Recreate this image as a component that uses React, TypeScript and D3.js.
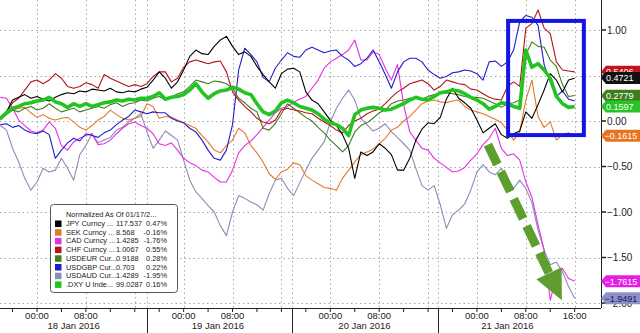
import React from "react";
import * as d3 from "d3";

// ---- data (hours since 18 Jan 2016 00:00, normalized % change) ----
const hours: number[] = d3.range(-6, 89);

const seriesNames = ["USDAUD", "SEK", "CAD", "USDGBP", "USDEUR", "CHF", "JPY", "DXY"];

const usdaud = [-0.05,-0.10,-0.30,-0.45,-0.63,-0.76,
-0.67,-0.52,-0.56,-0.54,-0.41,-0.52,-0.65,-0.37,-0.27,-0.14,
-0.24,-0.21,-0.18,-0.10,-0.07,-0.01,0.03,0.08,-0.12,-0.30,
-0.21,-0.11,-0.16,-0.21,-0.43,-0.65,-0.78,-0.85,-0.93,-1.00,
-1.15,-1.26,-1.00,-0.82,-0.85,-0.89,-0.92,-0.98,-0.80,-0.65,
-0.63,-0.74,-0.82,-0.68,-0.54,-0.41,-0.32,-0.23,-0.01,0.14,
0.25,0.34,0.23,0.03,-0.04,-0.11,-0.08,-0.03,-0.12,-0.18,
-0.25,-0.32,-0.52,-0.71,-0.76,-0.71,-0.92,-1.18,-1.03,-0.98,
-0.91,-0.76,-0.56,-0.48,-0.56,-0.59,-0.52,-0.63,-0.74,-0.65,
-0.74,-0.90,-1.20,-1.42,-1.58,-1.55,-1.66,-1.82,-1.95];

const sek = [0.04,0.09,0.12,0.14,0.15,0.09,
0.04,0.07,0.03,0.01,0.03,0.04,-0.01,-0.07,-0.10,-0.05,
0.01,0.05,0.12,0.07,0.03,0.01,0.03,0.05,0.19,0.16,
0.03,0.05,0.04,0.01,-0.02,-0.05,-0.08,-0.16,-0.23,-0.32,
-0.35,-0.27,-0.21,-0.08,-0.13,-0.27,-0.35,-0.45,-0.58,-0.64,
-0.56,-0.53,-0.46,-0.48,-0.60,-0.65,-0.69,-0.73,-0.74,-0.76,
-0.63,-0.54,-0.45,-0.37,-0.34,-0.31,-0.25,-0.19,-0.10,-0.07,
0.00,0.05,0.12,0.19,0.22,0.23,0.21,0.20,0.22,0.23,
0.16,0.12,0.10,0.08,0.05,0.02,-0.02,-0.10,-0.21,-0.12,
0.23,0.45,0.05,-0.07,-0.01,-0.21,-0.15,-0.13,-0.16];

const cad = [0.26,0.25,0.14,0.01,-0.05,-0.11,
-0.13,-0.10,-0.01,-0.08,-0.27,-0.32,-0.23,-0.19,-0.16,-0.14,
-0.26,-0.25,-0.21,-0.14,-0.08,-0.03,-0.01,-0.05,-0.08,-0.14,
-0.25,-0.27,-0.24,-0.32,-0.41,-0.46,-0.49,-0.54,-0.56,-0.62,
-0.67,-0.67,-0.54,-0.35,-0.27,-0.22,-0.15,-0.07,0.01,0.09,
0.14,0.16,0.21,0.24,0.27,0.36,0.45,0.58,0.65,0.69,
0.73,0.78,0.89,0.67,0.67,0.76,0.73,0.58,0.45,0.62,
0.18,-0.12,-0.21,-0.30,-0.32,-0.41,-0.46,-0.51,-0.56,-0.55,
-0.51,-0.43,-0.36,-0.26,-0.19,-0.08,-0.30,-0.38,-0.36,-0.43,
-0.67,-0.84,-1.14,-1.42,-1.97,-1.70,-1.62,-1.73,-1.76];

const usdgbp = [-0.04,-0.03,-0.07,-0.05,-0.10,-0.13,
-0.14,-0.11,-0.15,-0.41,-0.32,-0.24,-0.19,-0.22,-0.14,-0.16,
-0.18,-0.13,-0.10,-0.04,0.01,0.05,0.12,0.10,0.08,0.10,
0.09,0.09,0.03,0.00,-0.02,-0.08,-0.12,-0.21,-0.32,-0.41,
-0.43,-0.32,-0.04,0.56,0.80,0.73,0.65,0.48,0.43,0.58,
0.67,0.75,0.71,0.70,0.78,0.81,0.78,0.75,0.77,0.78,
0.71,0.67,0.60,0.63,0.69,0.78,0.65,0.51,0.36,0.54,
0.65,0.69,0.69,0.65,0.56,0.51,0.47,0.49,0.53,0.54,
0.56,0.55,0.52,0.45,0.65,0.66,0.60,0.65,0.78,1.09,
1.16,1.14,1.05,0.62,0.43,0.27,0.33,0.24,0.22];

const usdeur = [0.01,0.07,0.12,0.10,0.14,0.16,
0.12,0.14,0.19,0.14,0.10,0.12,0.14,0.10,0.12,0.14,
0.16,0.14,0.18,0.20,0.16,0.19,0.20,0.23,0.22,0.25,
0.27,0.23,0.26,0.30,0.32,0.38,0.45,0.43,0.41,0.44,
0.43,0.41,0.36,0.25,0.20,0.14,0.10,-0.08,-0.10,-0.03,
0.08,0.19,0.14,0.09,0.04,0.00,-0.07,-0.13,-0.21,-0.27,
-0.34,-0.27,-0.12,-0.05,-0.02,0.03,0.09,0.12,0.19,0.22,
0.23,0.25,0.26,0.24,0.27,0.29,0.30,0.31,0.30,0.29,
0.27,0.26,0.26,0.25,0.22,0.19,0.15,0.19,0.20,0.23,
0.73,0.87,0.82,0.81,0.67,0.60,0.40,0.27,0.28];

const chf = [0.03,0.10,0.20,0.25,0.34,0.43,
0.45,0.41,0.45,0.52,0.47,0.38,0.36,0.38,0.42,0.40,
0.36,0.51,0.47,0.44,0.41,0.38,0.40,0.38,0.41,0.49,
0.54,0.54,0.43,0.47,0.59,0.65,0.67,0.65,0.63,0.65,
0.66,0.54,0.32,0.23,0.16,0.10,0.03,-0.01,-0.03,0.01,
0.12,0.14,0.12,0.11,0.09,0.08,0.03,-0.01,-0.05,-0.10,
-0.13,-0.05,0.00,0.03,0.08,0.11,0.13,0.19,0.26,0.32,
0.36,0.41,0.43,0.45,0.41,0.34,0.38,0.45,0.43,0.41,
0.40,0.35,0.34,0.30,0.26,0.24,0.23,0.38,0.43,0.38,
1.02,1.07,1.22,1.02,0.96,0.65,0.56,0.55,0.54];

const jpy = [0.03,0.10,0.23,0.26,0.29,0.25,
0.27,0.24,0.22,0.26,0.29,0.31,0.30,0.33,0.32,0.35,
0.34,0.33,0.36,0.32,0.31,0.33,0.32,0.35,0.37,0.45,
0.54,0.47,0.36,0.43,0.56,0.71,0.78,0.74,0.73,0.82,
0.89,0.93,0.82,0.73,0.76,0.71,0.60,0.51,0.43,0.36,
0.52,0.57,0.58,0.54,0.32,0.23,0.19,0.10,0.01,-0.05,
-0.15,-0.30,-0.63,-0.34,-0.38,-0.34,-0.25,-0.30,-0.37,-0.54,
-0.54,-0.41,-0.21,-0.09,-0.02,-0.03,0.04,0.24,0.36,0.25,
0.20,0.14,0.01,-0.13,-0.08,-0.03,-0.15,-0.19,-0.14,-0.11,
0.10,0.03,0.18,0.34,0.52,0.45,0.32,0.45,0.47];

const dxy = [0.03,0.09,0.14,0.16,0.19,0.20,
0.22,0.23,0.26,0.21,0.19,0.15,0.19,0.16,0.19,0.16,
0.18,0.20,0.21,0.23,0.22,0.24,0.23,0.25,0.25,0.27,
0.31,0.24,0.26,0.27,0.29,0.34,0.41,0.32,0.25,0.30,
0.33,0.34,0.37,0.35,0.31,0.29,0.19,0.10,0.07,0.11,
0.20,0.23,0.20,0.16,0.14,0.12,0.08,0.02,-0.02,-0.04,
-0.08,-0.16,0.07,0.12,0.14,0.15,0.14,0.12,0.13,0.16,
0.19,0.23,0.26,0.24,0.23,0.27,0.31,0.32,0.34,0.33,
0.30,0.26,0.23,0.19,0.13,0.16,0.20,0.19,0.16,0.14,
0.78,0.59,0.63,0.56,0.47,0.27,0.19,0.15,0.16];

const seriesValues = [usdaud, sek, cad, usdgbp, usdeur, chf, jpy, dxy];
const seriesColors = ["#8c8cb6", "#e27a2a", "#e232e2", "#1e1ec8", "#3f7d20", "#b3151b", "#000000", "#22c422"];
const seriesWidths = [1.1, 1.1, 1.1, 1.1, 1.1, 1.1, 1.1, 3.6];

// right-edge last-value tags
const tagValues = [0.5406, 0.4721, 0.2779, 0.1597, -0.1615, -1.7615, -1.9491];
const tagColors = ["#c0161b", "#111111", "#3f7d20", "#27c427", "#e8731e", "#e41ee4", "#8c90c8"];
const tagTextColors = ["#fff", "#fff", "#fff", "#fff", "#fff", "#fff", "#1a1a55"];

// legend
const legendTitle = "Normalized As Of 01/17/2...";
const legendNames = ["JPY Curncy ...", "SEK Curncy ...", "CAD Curncy ...", "CHF Curncy ...", "USDEUR Cur...", "USDGBP Cur...", "USDAUD Cur...", ".DXY U Inde..."];
const legendPrices = ["117.537", "8.568", "1.4285", "1.0067", "0.9188", "0.703", "1.4289", "99.0287"];
const legendChanges = ["0.47%", "-0.16%", "-1.76%", "0.55%", "0.28%", "0.22%", "-1.95%", "0.16%"];
const legendColors = ["#000000", "#e27a2a", "#e232e2", "#b3151b", "#3f7d20", "#1e1ec8", "#8c8cb6", "#22c422"];

// axes
const yTicks = [1, 0.5, 0, -0.5, -1, -1.5, -2];
const timeTickHours = [0, 8, 24, 32, 48, 56, 72, 80, 88];
const dayLabels = ["18 Jan 2016", "19 Jan 2016", "20 Jan 2016", "21 Jan 2016"];
const dayLabelHours = [6, 29.6, 53.6, 77];
const dividerHours = [18, 41.8, 65.6];

// annotations (data units)
const boxHours = [77.1, 89.5];
const boxValues = [1.1, -0.155];
const arrowFrom = { h: 73.8, v: -0.26 };
const arrowTo = { h: 85.9, v: -1.97 };

const FONT = "'Liberation Sans', Arial, sans-serif";

export default function App() {
  const W = 640, H = 333;
  const plotRight = 601, plotBottom = 308;
  const x = d3.scaleLinear().domain([0, 88]).range([37, 574.7]);
  const y = d3.scaleLinear().domain([0, -2]).range([121, 303]);
  const line = d3.line<number>().x((_, i) => x(hours[i])).y((d) => y(d));
  const fmt = d3.format(".2f");
  const fmt4 = d3.format(".4f");

  const vGrid = [...d3.range(0, 89, 8), ...dividerHours];
  const minorTicks = d3.range(-4, 92, 4);

  // arrow geometry
  const ax0 = x(arrowFrom.h), ay0 = y(arrowFrom.v);
  const ax1 = x(arrowTo.h), ay1 = y(arrowTo.v);
  const len = Math.hypot(ax1 - ax0, ay1 - ay0);
  const ux = (ax1 - ax0) / len, uy = (ay1 - ay0) / len;
  const px = -uy, py = ux;
  const headLen = 30, headHalf = 14;
  const bx = ax1 - ux * headLen, by = ay1 - uy * headLen;
  const head = `${ax1},${ay1} ${bx + px * headHalf},${by + py * headHalf} ${bx - px * headHalf},${by - py * headHalf}`;

  const lx = 50, ly = 204, lw = 127, lh = 88;

  return (
    <div style={{ position: "fixed", left: 0, top: 0, width: W, height: H, background: "#fff" }}>
      <svg width={W} height={H} style={{ display: "block", fontFamily: FONT }}>
        <defs>
          <clipPath id="plot">
            <rect x={0} y={0} width={plotRight} height={plotBottom} />
          </clipPath>
        </defs>
        <rect x={0} y={0} width={W} height={H} fill="#fff" />
        {/* grid */}
        <g stroke="#a9a9a9" strokeWidth={1} strokeDasharray="1.5,3" fill="none">
          {yTicks.map((t) => (
            <line key={"h" + t} x1={0} x2={plotRight} y1={Math.round(y(t)) + 0.5} y2={Math.round(y(t)) + 0.5} />
          ))}
          {vGrid.map((h) => (
            <line key={"v" + h} x1={Math.round(x(h)) + 0.5} x2={Math.round(x(h)) + 0.5} y1={0} y2={plotBottom} />
          ))}
        </g>
        {/* series */}
        <g clipPath="url(#plot)" fill="none" strokeLinejoin="round">
          {seriesValues.map((vals, i) => (
            <path key={seriesNames[i]} d={line(vals) || ""} stroke={seriesColors[i]} strokeWidth={seriesWidths[i]} />
          ))}
        </g>
        {/* blue box */}
        <rect
          x={x(boxHours[0])}
          y={y(boxValues[0])}
          width={x(boxHours[1]) - x(boxHours[0])}
          height={y(boxValues[1]) - y(boxValues[0])}
          fill="none"
          stroke="#1414e6"
          strokeWidth={4}
        />
        {/* green dashed arrow */}
        <line x1={ax0} y1={ay0} x2={bx + ux * 2} y2={by + uy * 2} stroke="#5e9e2e" strokeWidth={9} strokeDasharray="22,8" />
        <polygon points={head} fill="#5e9e2e" />
        {/* axes */}
        <line x1={0} x2={plotRight} y1={plotBottom + 0.5} y2={plotBottom + 0.5} stroke="#222" strokeWidth={1} />
        <line x1={plotRight + 0.5} x2={plotRight + 0.5} y1={0} y2={plotBottom} stroke="#222" strokeWidth={1} />
        {minorTicks.map((h) => (
          <line key={"mt" + h} x1={x(h)} x2={x(h)} y1={plotBottom} y2={plotBottom + 4} stroke="#222" />
        ))}
        {dividerHours.map((h) => (
          <line key={"dv" + h} x1={Math.round(x(h)) + 0.5} x2={Math.round(x(h)) + 0.5} y1={plotBottom} y2={H} stroke="#222" />
        ))}
        {timeTickHours.map((h) => (
          <text key={"tl" + h} x={x(h)} y={319} fontSize={9.5} fill="#222" textAnchor="middle">
            {d3.format("02")(((h % 24) + 24) % 24) + ":00"}
          </text>
        ))}
        {dayLabels.map((d, i) => (
          <text key={d} x={x(dayLabelHours[i])} y={329} fontSize={9.5} fill="#222" textAnchor="middle">
            {d}
          </text>
        ))}
        {yTicks.map((t) => (
          <g key={"yl" + t}>
            <line x1={plotRight} x2={plotRight + 5} y1={y(t)} y2={y(t)} stroke="#222" strokeWidth={1.5} />
            <text x={607} y={y(t)} dy="0.35em" fontSize={10} fill="#222">
              {fmt(t)}
            </text>
          </g>
        ))}
        {/* value tags */}
        {tagValues.map((v, i) => {
          const cy = y(v);
          const pts = `${plotRight},${cy} ${plotRight + 5},${cy - 6} ${W},${cy - 6} ${W},${cy + 6} ${plotRight + 5},${cy + 6}`;
          return (
            <g key={"tag" + i}>
              <polygon points={pts} fill={tagColors[i]} />
              <text x={v < 0 ? 604.5 : 606} y={cy} dy="0.36em" fontSize={9} fill={tagTextColors[i]}>
                {fmt4(v)}
              </text>
            </g>
          );
        })}
        {/* legend */}
        <g>
          <rect x={lx + 0.5} y={ly + 0.5} width={lw} height={lh} rx={3} fill="#fff" stroke="#555" />
          <text x={lx + 16} y={ly + 13} fontSize={7.4} fill="#222">{legendTitle}</text>
          {legendNames.map((n, i) => {
            const ry = ly + 22 + i * 8.7;
            return (
              <g key={n}>
                <rect x={lx + 5} y={ry - 5.5} width={6.5} height={6.5} fill={legendColors[i]} />
                <text x={lx + 16} y={ry} fontSize={7.4} fill="#222">{n}</text>
                <text x={lx + 66} y={ry} fontSize={7.4} fill="#222">{legendPrices[i]}</text>
                <text x={lx + 117} y={ry} fontSize={7.4} fill="#222" textAnchor="end">{legendChanges[i]}</text>
              </g>
            );
          })}
        </g>
      </svg>
    </div>
  );
}
